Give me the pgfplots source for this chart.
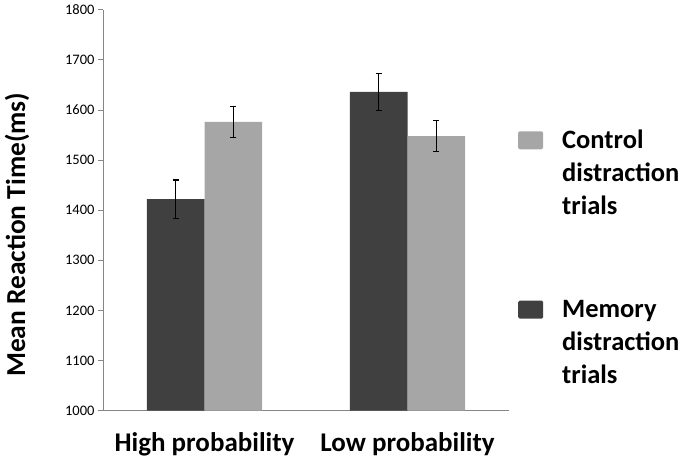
\documentclass[border=0pt]{standalone}
\usepackage{pgfplots}
\pgfplotsset{compat=1.18}
\usepackage{fontspec}
\setmainfont{Carlito}
\definecolor{darkbar}{HTML}{404040}
\definecolor{lightbar}{HTML}{A6A6A6}
\definecolor{axgray}{HTML}{868686}
\begin{document}
\begin{tikzpicture}
\begin{axis}[
  scale only axis, width=406pt, height=401pt,
  xmin=-0.5, xmax=1.5, ymin=1000, ymax=1800,
  axis x line*=bottom, axis y line*=left,
  axis line style={axgray, line width=0.9pt},
  every tick/.style={axgray, line width=0.9pt},
  tick align=outside,
  ytick={1000,1100,...,1800},
  major tick length=5pt,
  /pgf/number format/assume math mode=true,
  /pgf/number format/1000 sep={},
  yticklabel style={font=\fontsize{14.5}{16}\selectfont, text=black},
  xtick={0,1},
  xticklabels={High probability, Low probability},
  x tick style={draw=none},
  xticklabel style={font=\fontsize{27}{32}\selectfont\bfseries, anchor=base, yshift=-36pt},
  extra x ticks={-0.5,0.5,1.5},
  extra x tick labels={},
  extra x tick style={major tick length=6pt, tick style={axgray, line width=0.9pt}},
  ylabel={Mean Reaction Time(ms)},
  ylabel style={font=\fontsize{27.4}{32}\selectfont\bfseries, at={(axis description cs:-0.192,0.439)}, anchor=base},
  legend style={at={(rel axis cs:1,0.70)}, anchor=north west, draw=none, fill=none, inner sep=0pt,
    row sep=150pt, column sep=19pt, font=\fontsize{26.5}{33}\selectfont\bfseries,
    nodes={inner sep=0pt}, xshift=9pt},
  legend cell align=left,
  reverse legend,
]
\addplot[ybar, bar width=0.284, bar shift=0pt, fill=darkbar, draw=none,
  legend image code/.code={\fill[darkbar, rounded corners=1.5pt] (0pt,-9pt) rectangle (25pt,9pt);},
  error bars/.cd, y dir=both, y explicit,
  error bar style={line width=1.3pt, black},
  error mark options={mark size=3pt, line width=1.3pt, black, rotate=90}]
  coordinates {(-0.142,1422) +- (0,38) (0.858,1636) +- (0,37)};
\addlegendentry{\parbox[t]{120pt}{Memory\\distraction\\trials}}
\addplot[ybar, bar width=0.284, bar shift=0pt, fill=lightbar, draw=none,
  legend image code/.code={\fill[lightbar, rounded corners=1.5pt] (0pt,-9pt) rectangle (25pt,9pt);},
  error bars/.cd, y dir=both, y explicit,
  error bar style={line width=1.3pt, black},
  error mark options={mark size=3pt, line width=1.3pt, black, rotate=90}]
  coordinates {(0.142,1576) +- (0,31) (1.142,1548) +- (0,31)};
\addlegendentry{\parbox[t]{120pt}{Control\\distraction\\trials}}
\end{axis}
\path (current axis.south west) ++(-103pt,-50.3pt) rectangle ++(685pt,461pt);
\end{tikzpicture}
\end{document}
